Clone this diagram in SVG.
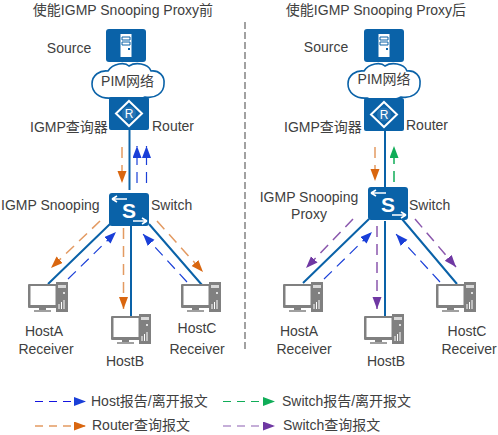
<svg xmlns="http://www.w3.org/2000/svg" width="498" height="435" viewBox="0 0 498 435">
<style>
text{font-family:"Liberation Sans","Noto Sans CJK SC",sans-serif;font-size:14px;fill:#404040}
.m{text-anchor:middle}
.link{stroke:#0a62a8;stroke-width:2;fill:none}
.box{fill:#0a62a8}
.b,.o,.g,.p{stroke-width:1.2;fill:none;stroke-dasharray:11 7}
.b{stroke:#1a3fd8}
.o{stroke:#e39a62;stroke-width:1.5}
.g{stroke:#10ad58;stroke-width:1.5}
.p{stroke:#8a57ad;stroke-width:1.5}
.ic{fill:none;stroke:#fff}
.leg{stroke-dasharray:8 6}
</style>
<defs>
<marker id="mb" markerUnits="userSpaceOnUse" markerWidth="13" markerHeight="10" refX="12" refY="4.500" orient="auto"><path d="M0 0L12 4.500L0 9Z" fill="#1a3fd8"/></marker>
<marker id="mo" markerUnits="userSpaceOnUse" markerWidth="13" markerHeight="10" refX="12" refY="4.500" orient="auto"><path d="M0 0L12 4.500L0 9Z" fill="#d9660f"/></marker>
<marker id="mg" markerUnits="userSpaceOnUse" markerWidth="13" markerHeight="10" refX="12" refY="4.500" orient="auto"><path d="M0 0L12 4.500L0 9Z" fill="#10ad58"/></marker>
<marker id="mp" markerUnits="userSpaceOnUse" markerWidth="13" markerHeight="10" refX="12" refY="4.500" orient="auto"><path d="M0 0L12 4.500L0 9Z" fill="#6f38a3"/></marker>
<g id="source">
<rect width="40" height="33" rx="3" class="box"/>
<rect x="14.500" y="5" width="11" height="23" fill="#fff"/>
<path d="M16 8h8v3h-8zM16 13h8v3h-8z" fill="#fff" stroke="#0a62a8"/>
<rect x="22" y="19" width="2" height="2" fill="#0a62a8"/>
</g>
<g id="cloud">
<path d="M20 36C8 37 1 30 1 22C1 13 9 8 17 9C22 1 34 0 38 4C44 0 57 1 60 9C68 8 74 14 73 22C73 31 64 37 54 35C48 39 27 40 20 36Z" fill="#fff" stroke="#0a62a8" stroke-width="1.600"/>
</g>
<g id="router">
<rect width="40" height="33" rx="2" class="box"/>
<path d="M20 4L33 16.500L20 29L7 16.500Z" class="ic" stroke-width="2"/>
<circle cx="20" cy="16.500" r="7" fill="#3f86c0" opacity=".5"/>
<text x="20" y="21" class="m" style="fill:#fff;font-size:12px">R</text>
</g>
<g id="switch">
<rect width="40" height="33" rx="3" class="box"/>
<path d="M3 6H18M3 6L8 3M3 6L8 9M24 28H38M38 28L33 25M38 28L33 31" class="ic" stroke-width="1.500"/>
<text x="20" y="25" class="m" style="fill:#fff;font-size:21px;font-weight:bold">S</text>
</g>
<g id="host">
<rect x="28" y="1" width="12" height="30" fill="#808080"/>
<rect x="30" y="4" width="8" height="3" fill="#fff" opacity=".7"/>
<circle cx="36" cy="12" r="1" fill="#fff"/>
<path d="M31 28v-5M33.500 28v-7M36 28v-9" stroke="#fff" stroke-width="1" fill="none"/>
<rect x="0" y="3" width="30" height="24" rx="1" fill="#808080"/>
<rect x="2.500" y="5" width="25" height="19" fill="#fff"/>
<rect x="11" y="27" width="7" height="2" fill="#808080"/>
<rect x="6" y="29" width="17" height="2" fill="#a0a0a0"/>
</g>
</defs>
<text x="123" y="15" class="m">使能IGMP Snooping Proxy前</text>
<text x="376" y="15" class="m">使能IGMP Snooping Proxy后</text>
<path d="M245 22V352" stroke="#707070" stroke-width="1.300" stroke-dasharray="7 3" fill="none"/>
<g id="connectors">
<path class="link" d="M129.500 130V190M110 224L48 284M131 226V316M149 224L202 285"/>
<path class="link" d="M385 131V188M369 219L303 283M385 221V317M402 219L457 284"/>
<path class="o" d="M122 147V183" marker-end="url(#mo)"/>
<path class="b" d="M137 183V146" marker-end="url(#mb)"/>
<path class="b" d="M146.500 183V146" marker-end="url(#mb)"/>
<path class="o" d="M100 221L51 268" marker-end="url(#mo)"/>
<path class="b" d="M68 279L116 232" marker-end="url(#mb)"/>
<path class="o" d="M123.500 228V309" marker-end="url(#mo)"/>
<path class="b" d="M187 282L143 234" marker-end="url(#mb)"/>
<path class="o" d="M157 221L203 272" marker-end="url(#mo)"/>
<path class="o" d="M375 147V181" marker-end="url(#mo)"/>
<path class="g" d="M394 182V146" marker-end="url(#mg)"/>
<path class="p" d="M353 219L306 268" marker-end="url(#mp)"/>
<path class="b" d="M324 279L372 232" marker-end="url(#mb)"/>
<path class="p" d="M377 226V309" marker-end="url(#mp)"/>
<path class="b" d="M440 282L396 234" marker-end="url(#mb)"/>
<path class="p" d="M415 219L456 267" marker-end="url(#mp)"/>
</g>
<g id="left-source"><use href="#source" x="106" y="29"/><text x="69" y="53" class="m">Source</text></g>
<g id="left-cloud"><use href="#cloud" x="91" y="62"/><text x="127.500" y="86" class="m">PIM网络</text></g>
<g id="left-router"><use href="#router" x="109" y="97"/><text x="30" y="132">IGMP查询器</text><text x="152" y="131">Router</text></g>
<g id="left-switch"><use href="#switch" x="109" y="193"/><text x="1" y="210">IGMP Snooping</text><text x="151" y="210">Switch</text></g>
<g id="left-hostA"><use href="#host" x="28" y="281"/><text x="44" y="336" class="m">HostA</text><text x="46" y="354" class="m">Receiver</text></g>
<g id="left-hostB"><use href="#host" x="111" y="313"/><text x="125" y="366" class="m">HostB</text></g>
<g id="left-hostC"><use href="#host" x="181" y="281"/><text x="197" y="333" class="m">HostC</text><text x="197" y="354" class="m">Receiver</text></g>
<g id="right-source"><use href="#source" x="364" y="29"/><text x="326" y="52" class="m">Source</text></g>
<g id="right-cloud"><use href="#cloud" x="347" y="62"/><text x="384" y="84" class="m">PIM网络</text></g>
<g id="right-router"><use href="#router" x="364" y="98"/><text x="284" y="132">IGMP查询器</text><text x="406" y="130">Router</text></g>
<g id="right-switch"><use href="#switch" x="368" y="187"/><text x="309" y="202" class="m">IGMP Snooping</text><text x="309" y="219" class="m">Proxy</text><text x="409" y="210">Switch</text></g>
<g id="right-hostA"><use href="#host" x="283" y="281"/><text x="299" y="336" class="m">HostA</text><text x="304" y="354" class="m">Receiver</text></g>
<g id="right-hostB"><use href="#host" x="364" y="313"/><text x="386" y="366" class="m">HostB</text></g>
<g id="right-hostC"><use href="#host" x="436" y="281"/><text x="467" y="336" class="m">HostC</text><text x="469" y="354" class="m">Receiver</text></g>
<g id="legend">
<path class="leg" d="M35 401.500H86" stroke="#1414e0" stroke-width="1.200" marker-end="url(#mb)"/>
<text x="91" y="406">Host报告/离开报文</text>
<path class="leg" d="M223 401.500H275" stroke="#10ad58" stroke-width="1.200" marker-end="url(#mg)"/>
<text x="282" y="406">Switch报告/离开报文</text>
<path class="o leg" d="M35 426H86" marker-end="url(#mo)"/>
<text x="92" y="430">Router查询报文</text>
<path class="p leg" d="M223 426H275" style="stroke:#b294cc" marker-end="url(#mp)"/>
<text x="283" y="430">Switch查询报文</text>
</g>
</svg>
